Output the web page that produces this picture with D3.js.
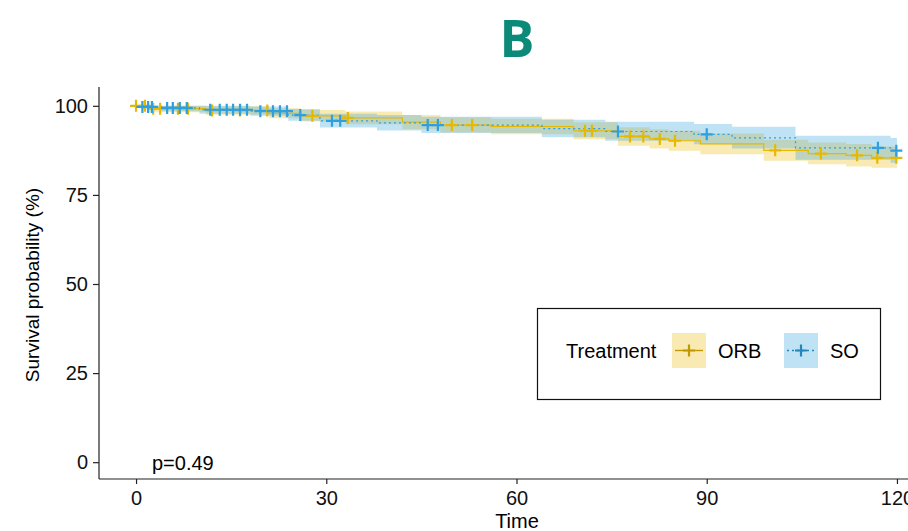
<!DOCTYPE html>
<html>
<head>
<meta charset="utf-8">
<script src="https://cdn.jsdelivr.net/npm/d3@7"></script>
<style>
  body { margin: 0; background: #fff; }
  text { font-family: "Liberation Sans", Arial, sans-serif; }
</style>
</head>
<body>
<div id="chart"></div>
<script>
// Kaplan-Meier steps (time in months, survival in %)
var orbTime = [0, 2, 11, 21, 26, 33, 42, 48, 56, 69, 76, 81, 84, 89, 99, 106, 112, 116, 120];
var orbSurv = [100, 99.2, 98.7, 97.9, 97.2, 96.6, 95.4, 94.6, 94.2, 93.0, 91.4, 90.7, 90.2, 89.3, 87.5, 86.6, 86.1, 85.4, 85.4];
var orbLow  = [100, 98.2, 97.5, 96.5, 95.6, 94.8, 93.4, 92.5, 92.0, 90.6, 88.8, 88.0, 87.4, 86.4, 84.6, 83.6, 83.0, 82.6, 82.6];
var orbUp   = [100, 100, 99.9, 99.3, 98.8, 98.4, 97.4, 96.8, 96.4, 95.4, 94.0, 93.4, 93.0, 92.2, 90.5, 89.7, 89.3, 88.6, 88.6];

var soTime = [0, 1, 4, 10, 18, 24, 29, 38, 45, 64, 74, 88, 94, 104, 119, 120];
var soSurv = [100, 99.7, 99.4, 98.9, 98.5, 97.4, 95.8, 95.2, 94.6, 93.6, 92.8, 92.0, 91.0, 88.2, 87.4, 87.4];
var soLow  = [100, 99.1, 98.5, 97.8, 97.2, 95.8, 93.9, 93.1, 92.4, 91.2, 90.2, 89.2, 88.0, 84.9, 84.0, 84.0];
var soUp   = [100, 100, 100, 100, 99.8, 99.1, 97.8, 97.4, 96.9, 96.1, 95.5, 94.9, 94.1, 91.6, 91.0, 91.0];

// censored observations (times)
var orbCensor = [0, 1.4, 2.7, 3.8, 6.6, 8.2, 12, 16.4, 20.7, 27.8, 33.4, 49.8, 53, 70.8, 71.9, 77.9, 80, 82.6, 85, 100.8, 108, 113.7, 116.9, 119.9];
var soCensor = [1, 1.9, 2.5, 4.9, 5.8, 6.9, 8, 11.7, 13.2, 14.3, 15.3, 16.4, 17.5, 19.6, 21.6, 22.7, 23.8, 25.9, 30.9, 32.2, 46, 47.6, 76, 90, 117, 119.9];

var xTicks = [0, 30, 60, 90, 120];
var yTicks = [0, 25, 50, 75, 100];
var groups = ["ORB", "SO"];
var colors = {ORB: "#E7B800", SO: "#2E9FDF"};

var width = 908, height = 531;

var x = d3.scaleLinear().domain([-6, 126]).range([98, 935]);
var y = d3.scaleLinear().domain([-5, 105]).range([480, 88]);

var svg = d3.select("#chart").append("svg")
    .attr("width", width)
    .attr("height", height);

// Title
svg.append("text")
    .attr("x", 517)
    .attr("y", 57)
    .attr("text-anchor", "middle")
    .style("font-family", "'Open Sans', Roboto, sans-serif")
    .attr("font-weight", "bold")
    .attr("font-size", 52)
    .attr("fill", "#0B8A7A")
    .text("B");

function series(time, surv, low, up, cens) {
  return {
    pts: time.map(function(t, i) { return {t: t, s: surv[i], lo: low[i], hi: up[i]}; }),
    cens: cens.map(function(t) {
      var i = d3.bisectRight(time, t) - 1;
      return {t: t, s: surv[Math.max(i, 0)]};
    })
  };
}
var data = {
  ORB: series(orbTime, orbSurv, orbLow, orbUp, orbCensor),
  SO: series(soTime, soSurv, soLow, soUp, soCensor)
};

var band = d3.area().curve(d3.curveStepAfter)
    .x(function(d) { return x(d.t); })
    .y0(function(d) { return y(d.lo); })
    .y1(function(d) { return y(d.hi); });
var line = d3.line().curve(d3.curveStepAfter)
    .x(function(d) { return x(d.t); })
    .y(function(d) { return y(d.s); });

// Confidence bands
groups.forEach(function(g) {
  svg.append("path")
      .attr("d", band(data[g].pts))
      .attr("fill", colors[g])
      .attr("fill-opacity", 0.3);
});

// Survival curves
groups.forEach(function(g) {
  svg.append("path")
      .attr("d", line(data[g].pts))
      .attr("fill", "none")
      .attr("stroke", colors[g])
      .attr("stroke-width", 1.2)
      .attr("stroke-dasharray", g == "SO" ? "2,3" : null);
});

// Censor marks
function plus(sel, cx, cy, c) {
  sel.append("path")
      .attr("d", "M" + (cx - 6) + "," + cy + "H" + (cx + 6) + "M" + cx + "," + (cy - 6) + "V" + (cy + 6))
      .attr("stroke", c)
      .attr("stroke-width", 2.2)
      .attr("fill", "none");
}
groups.forEach(function(g) {
  data[g].cens.forEach(function(d) {
    plus(svg, x(d.t), y(d.s), colors[g]);
  });
});

// Axes
var yAxis = svg.append("g")
    .attr("transform", "translate(99,0)")
    .call(d3.axisLeft(y).tickValues(yTicks).tickSize(6).tickPadding(5));
var xAxis = svg.append("g")
    .attr("transform", "translate(0,479)")
    .call(d3.axisBottom(x).tickValues(xTicks).tickSize(5).tickPadding(7));
[xAxis, yAxis].forEach(function(a) {
  a.selectAll("text").attr("font-size", 20).attr("fill", "#111")
      .style("font-family", "'Liberation Sans', Arial, sans-serif");
  a.select(".domain").attr("stroke", "#222").attr("stroke-width", 1.2);
  a.selectAll(".tick line").attr("stroke", "#222").attr("stroke-width", 1.2);
});
yAxis.select(".domain").attr("d", "M0,87V479");
xAxis.select(".domain").attr("d", "M99,0H935");

// Axis titles
svg.append("text")
    .attr("transform", "translate(39,285) rotate(-90)")
    .attr("text-anchor", "middle")
    .attr("font-size", 19)
    .text("Survival probability (%)");
svg.append("text")
    .attr("x", 517)
    .attr("y", 528)
    .attr("text-anchor", "middle")
    .attr("font-size", 20)
    .text("Time");

// p-value
svg.append("text")
    .attr("x", 152)
    .attr("y", 470)
    .attr("font-size", 20)
    .text("p=0.49");

// Legend
var lg = svg.append("g");
lg.append("rect")
    .attr("x", 537.5).attr("y", 308.5)
    .attr("width", 343).attr("height", 91)
    .attr("fill", "#fff")
    .attr("stroke", "#111")
    .attr("stroke-width", 1.2);
lg.append("text")
    .attr("x", 566).attr("y", 358)
    .attr("font-size", 20)
    .text("Treatment");
var keyX = {ORB: 672, SO: 784};
groups.forEach(function(g) {
  var kx = keyX[g], ky = 333;
  lg.append("rect")
      .attr("x", kx).attr("y", ky)
      .attr("width", 34).attr("height", 35)
      .attr("fill", colors[g])
      .attr("fill-opacity", 0.3);
  lg.append("line")
      .attr("x1", kx + 3).attr("x2", kx + 31)
      .attr("y1", ky + 17.5).attr("y2", ky + 17.5)
      .attr("stroke", d3.color(colors[g]).darker(0.5))
      .attr("stroke-width", 1.4)
      .attr("stroke-dasharray", g == "SO" ? "2,3" : null);
  plus(lg, kx + 17, ky + 17.5, d3.color(colors[g]).darker(0.5));
  lg.append("text")
      .attr("x", kx + 46).attr("y", 358)
      .attr("font-size", 20)
      .text(g);
});
</script>
</body>
</html>
